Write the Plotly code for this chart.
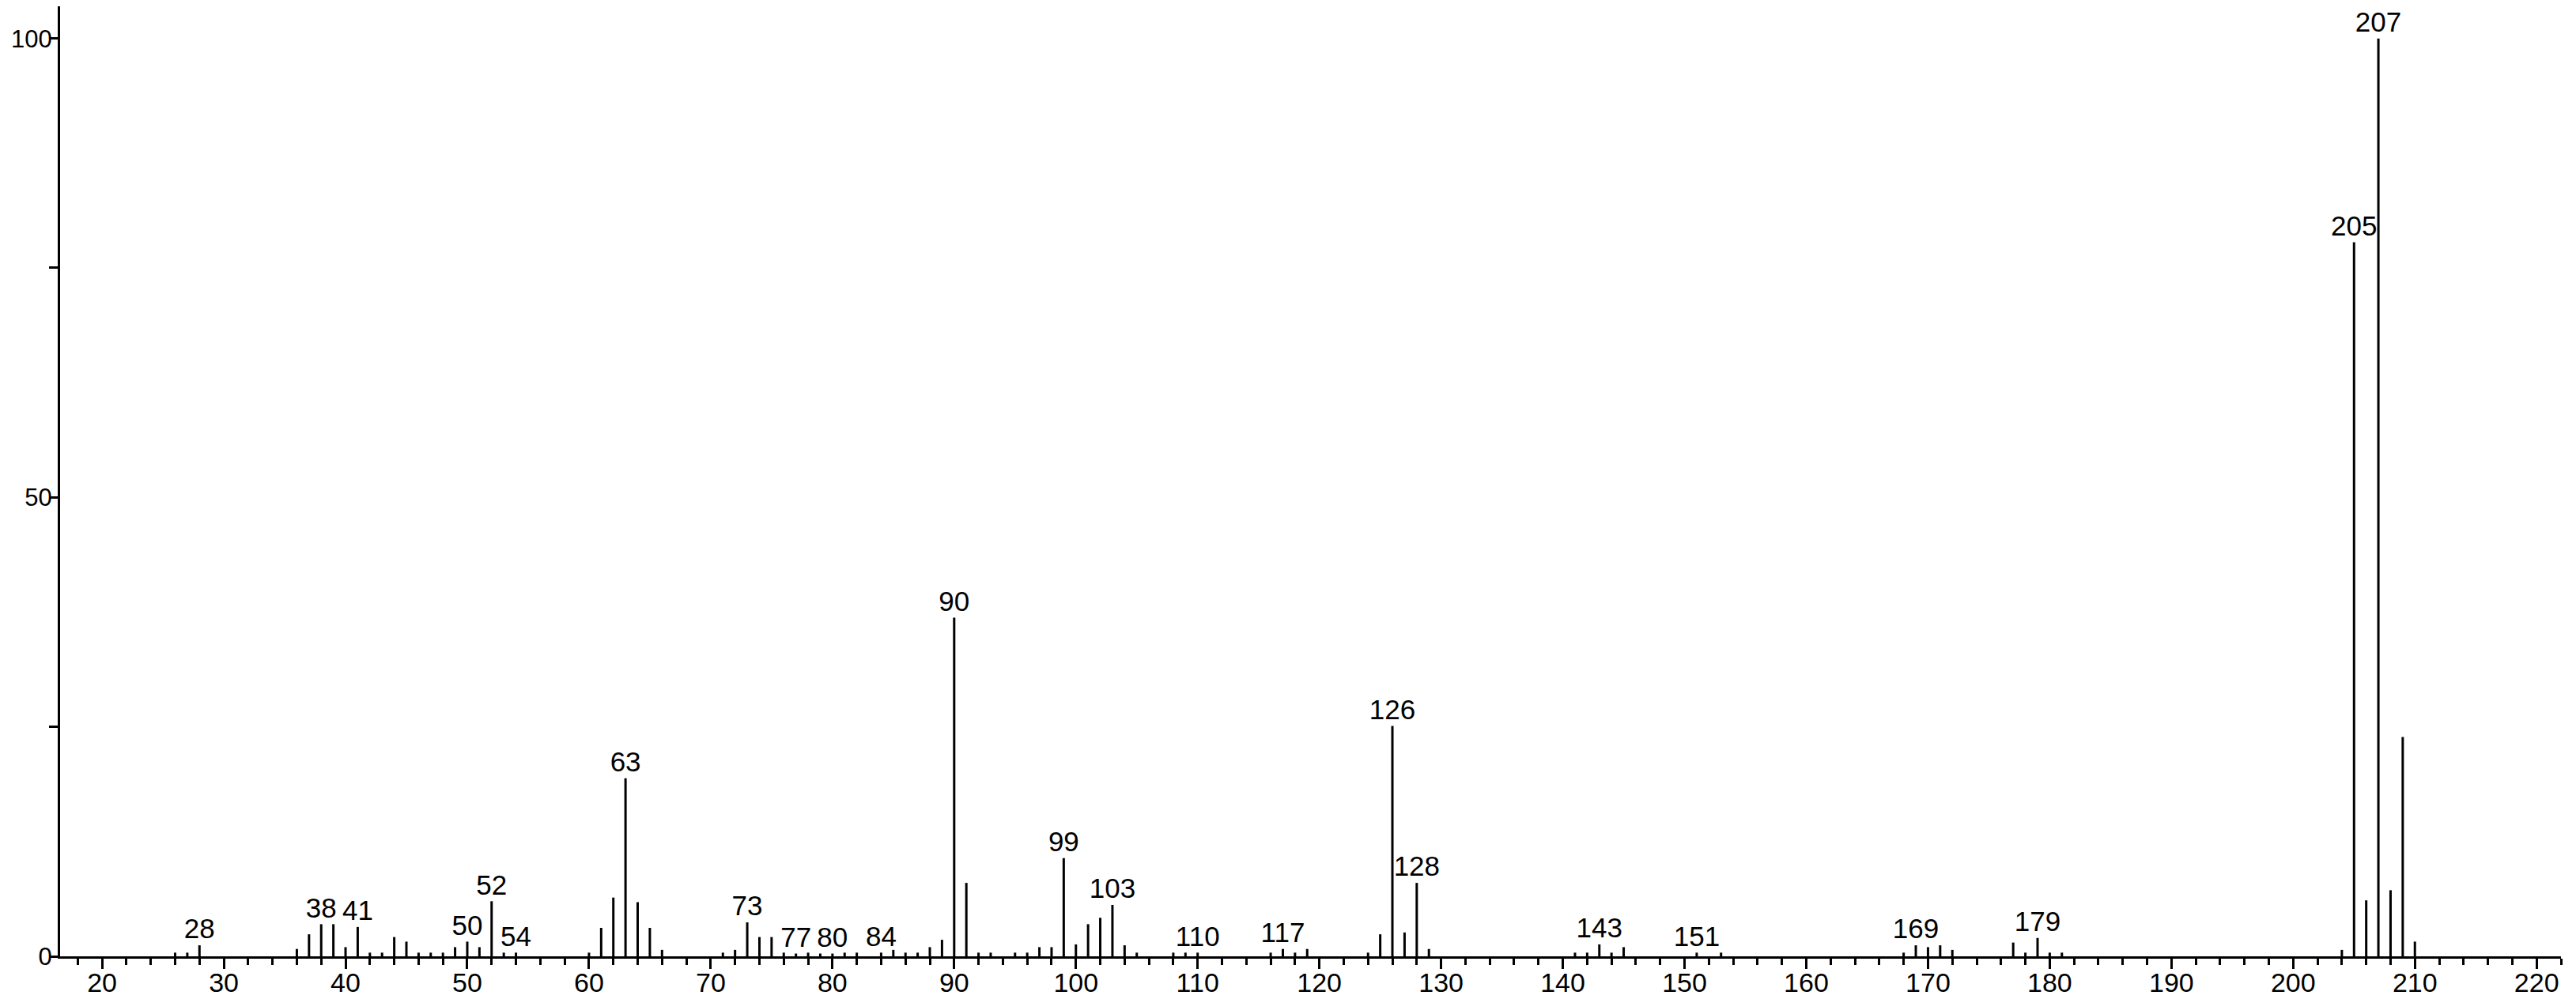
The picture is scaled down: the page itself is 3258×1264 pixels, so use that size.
import plotly.graph_objects as go

# m/z and relative intensity (%)
mz = [26, 27, 28, 36, 37, 38, 39, 40, 41, 42, 43, 44, 45, 46, 47, 48, 49, 50, 51, 52, 53, 54,
      60, 61, 62, 63, 64, 65, 66, 71, 72, 73, 74, 75, 76, 77, 78, 79, 80, 81, 82, 84, 85, 86, 87, 88, 89,
      90, 91, 92, 93, 95, 96, 97, 98, 99, 100, 101, 102, 103, 104, 105, 108, 109, 110,
      116, 117, 118, 119, 124, 125, 126, 127, 128, 129, 141, 142, 143, 144, 145, 151, 153,
      168, 169, 170, 171, 172, 177, 178, 179, 180, 181, 204, 205, 206, 207, 208, 209, 210]
intensity = [0.4, 0.4, 1.2, 0.8, 2.4, 3.5, 3.5, 1.0, 3.2, 0.4, 0.4, 2.1, 1.6, 0.4, 0.4, 0.4, 1.0, 1.6, 1.0, 6.0, 0.4, 0.4,
             0.4, 3.1, 6.4, 19.4, 5.9, 3.1, 0.7, 0.4, 0.7, 3.7, 2.1, 2.1, 0.4, 0.3, 0.4, 0.3, 0.3, 0.4, 0.4, 0.4, 0.7, 0.4, 0.4, 1.0, 1.8,
             36.9, 8.0, 0.4, 0.4, 0.4, 0.4, 1.0, 1.0, 10.7, 1.3, 3.5, 4.2, 5.6, 1.2, 0.4, 0.4, 0.4, 0.4,
             0.4, 0.8, 0.4, 0.8, 0.4, 2.4, 25.1, 2.6, 8.0, 0.8, 0.4, 0.4, 1.3, 0.4, 1.0, 0.4, 0.4,
             0.4, 1.2, 1.0, 1.2, 0.7, 1.5, 0.4, 2.0, 0.4, 0.4, 0.7, 77.8, 6.1, 100.0, 7.2, 23.9, 1.6]

labelled = [28, 38, 41, 50, 52, 54, 63, 73, 77, 80, 84, 90, 99, 103, 110, 117, 126, 128,
            143, 151, 169, 179, 205, 207]

x_ticks = list(range(20, 230, 10))
y_ticks = [0, 25, 50, 75, 100]
y_ticktext = ["0", "", "50", "", "100"]

# stems
sx, sy = [], []
for m, h in zip(mz, intensity):
    sx += [m, m, None]
    sy += [0, h, None]

lx = [m for m in mz if m in labelled]
ly = [h for m, h in zip(mz, intensity) if m in labelled]

fig = go.Figure()
fig.add_trace(go.Scatter(x=sx, y=sy, mode="lines",
                         line=dict(color="black", width=3), hoverinfo="skip"))
fig.add_trace(go.Scatter(x=lx, y=ly, mode="text", text=[str(m) for m in lx],
                         textposition="top center", cliponaxis=False,
                         textfont=dict(size=35, color="black")))

fig.update_layout(
    width=3258, height=1264,
    margin=dict(l=68, r=27, t=0, b=62),
    plot_bgcolor="white", paper_bgcolor="white",
    showlegend=False,
    font=dict(family="Liberation Sans, Arial", size=34, color="black"),
)
fig.update_xaxes(
    range=[16.55, 222.0], tickvals=x_ticks, showgrid=False, zeroline=False, automargin=False,
    showline=True, linecolor="black", linewidth=3, ticklabelstandoff=-12,
    ticks="outside", ticklen=13, tickwidth=3, tickcolor="black",
    minor=dict(dtick=2, tick0=0, ticks="outside", ticklen=8, tickwidth=3, tickcolor="black"),
)
fig.update_yaxes(
    range=[0, 103.5], tickvals=y_ticks, ticktext=y_ticktext, showgrid=False, zeroline=False,
    automargin=False, showline=True, linecolor="black", linewidth=3, ticklabelstandoff=-10,
    ticks="outside", ticklen=11, tickwidth=3, tickcolor="black",
    tickfont=dict(size=31),
)

fig.write_html("out.html")
